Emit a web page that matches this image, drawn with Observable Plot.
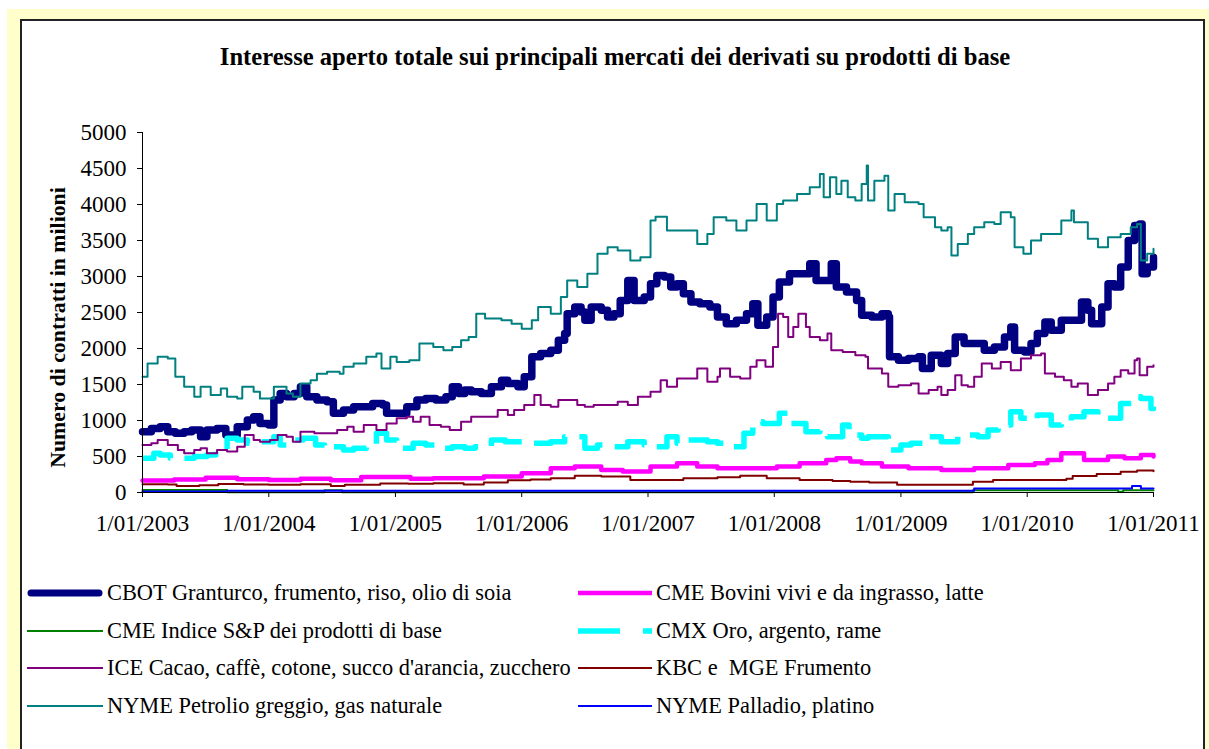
<!DOCTYPE html>
<html>
<head>
<meta charset="utf-8">
<script src="https://cdn.jsdelivr.net/npm/d3@7"></script>
<script src="https://cdn.jsdelivr.net/npm/@observablehq/plot@0.6"></script>
<style>
  html, body { margin: 0; padding: 0; background: #fff; width: 1209px; height: 749px; overflow: hidden; font-family: "Liberation Serif", "Times New Roman", serif; }
  #yellow { position: absolute; left: 7px; top: 9px; width: 1202px; height: 760px; background: #FFFFCC; }
  #box { position: absolute; left: 20px; top: 19px; width: 1181px; height: 780px; background: #fff; border: 2px solid #222; }
  #title { position: absolute; left: 20px; top: 43px; width: 1190px; text-align: center; font-weight: bold; font-size: 24.6px; color: #000; white-space: nowrap; }
  #chart { position: absolute; left: 0; top: 100px; }
  .leg { position: absolute; height: 20px; display: flex; align-items: center; font-size: 22.4px; color: #000; white-space: pre; }
  .leg svg { margin-right: 4px; }
</style>
</head>
<body>
<div id="yellow"></div>
<div id="box"></div>
<div id="title">Interesse aperto totale sui principali mercati dei derivati su prodotti di base</div>
<div id="chart"></div>
<div id="legend"></div>
<script>
// ---- Data (decimal year, millions of contracts) ----
const cbot = [[2003.00,845],[2003.07,890],[2003.14,914],[2003.20,845],[2003.26,822],[2003.33,845],[2003.39,868],[2003.46,775],[2003.51,868],[2003.59,890],[2003.66,799],[2003.75,914],[2003.83,1006],[2003.88,1053],[2003.93,960],[2004.00,937],[2004.04,1284],[2004.09,1376],[2004.14,1330],[2004.20,1376],[2004.25,1468],[2004.30,1330],[2004.38,1284],[2004.46,1260],[2004.51,1099],[2004.59,1145],[2004.67,1191],[2004.75,1191],[2004.82,1237],[2004.90,1214],[2004.93,1099],[2005.01,1099],[2005.09,1191],[2005.17,1284],[2005.24,1306],[2005.32,1284],[2005.40,1330],[2005.45,1468],[2005.50,1376],[2005.55,1422],[2005.60,1400],[2005.68,1376],[2005.76,1468],[2005.84,1560],[2005.89,1514],[2005.97,1468],[2006.02,1607],[2006.08,1884],[2006.15,1930],[2006.23,1976],[2006.29,2115],[2006.34,2207],[2006.36,2484],[2006.42,2576],[2006.47,2507],[2006.50,2392],[2006.55,2576],[2006.63,2530],[2006.68,2438],[2006.73,2484],[2006.78,2668],[2006.84,2946],[2006.89,2668],[2006.97,2715],[2007.02,2900],[2007.07,3015],[2007.13,2992],[2007.18,2853],[2007.23,2900],[2007.28,2761],[2007.34,2646],[2007.41,2622],[2007.49,2576],[2007.55,2438],[2007.62,2345],[2007.70,2392],[2007.78,2484],[2007.83,2622],[2007.87,2322],[2007.94,2438],[2007.99,2715],[2008.04,2922],[2008.12,3038],[2008.20,3038],[2008.28,3177],[2008.33,2946],[2008.41,2946],[2008.45,3177],[2008.49,2853],[2008.57,2784],[2008.65,2668],[2008.69,2461],[2008.77,2438],[2008.85,2484],[2008.90,2438],[2008.91,1884],[2008.98,1837],[2009.06,1860],[2009.14,1884],[2009.17,1722],[2009.24,1907],[2009.32,1791],[2009.37,1930],[2009.43,2161],[2009.50,2068],[2009.58,2068],[2009.66,1976],[2009.74,2022],[2009.82,2161],[2009.87,2300],[2009.90,1976],[2009.98,1953],[2010.03,2068],[2010.08,2207],[2010.14,2368],[2010.19,2253],[2010.27,2392],[2010.35,2392],[2010.43,2646],[2010.48,2530],[2010.51,2345],[2010.59,2576],[2010.64,2900],[2010.69,2853],[2010.74,3131],[2010.80,3500],[2010.85,3707],[2010.89,3730],[2010.91,3038],[2010.95,3131],[2011.00,3269]];
const cmeBovini = [[2003.00,166],[2003.25,180],[2003.50,205],[2003.75,185],[2004.00,175],[2004.25,190],[2004.49,170],[2004.73,215],[2005.12,190],[2005.30,198],[2005.45,198],[2005.70,222],[2006.00,268],[2006.23,337],[2006.42,360],[2006.63,314],[2006.80,291],[2007.02,360],[2007.23,406],[2007.39,360],[2007.55,337],[2007.81,337],[2008.02,360],[2008.20,406],[2008.41,452],[2008.49,475],[2008.60,430],[2008.69,406],[2008.85,360],[2009.06,337],[2009.32,314],[2009.58,337],[2009.85,383],[2010.06,406],[2010.16,452],[2010.27,545],[2010.37,545],[2010.45,452],[2010.64,499],[2010.77,475],[2010.90,522],[2011.00,499]];
const cmeIndice = [[2003.00,35],[2003.66,35],[2003.67,5],[2004.43,5],[2004.44,30],[2004.57,30],[2004.58,5],[2009.56,5],[2009.57,30],[2010.70,30],[2010.72,10],[2010.76,30],[2011.00,30]];
const cmx = [[2003.00,475],[2003.09,545],[2003.14,522],[2003.22,475],[2003.41,499],[2003.51,522],[2003.58,590],[2003.67,753],[2003.75,730],[2003.83,683],[2003.93,706],[2004.04,776],[2004.09,660],[2004.19,730],[2004.27,753],[2004.37,660],[2004.44,614],[2004.51,637],[2004.59,591],[2004.67,614],[2004.77,637],[2004.85,822],[2004.93,730],[2005.01,614],[2005.14,683],[2005.24,660],[2005.35,614],[2005.45,637],[2005.55,614],[2005.63,637],[2005.76,730],[2005.87,706],[2006.00,683],[2006.13,683],[2006.23,706],[2006.34,776],[2006.50,614],[2006.60,660],[2006.68,637],[2006.84,706],[2006.97,660],[2007.02,637],[2007.15,776],[2007.23,683],[2007.31,730],[2007.47,706],[2007.55,683],[2007.65,637],[2007.76,822],[2007.83,983],[2007.91,960],[2007.99,960],[2008.04,1099],[2008.12,960],[2008.25,845],[2008.36,868],[2008.42,776],[2008.54,937],[2008.59,845],[2008.64,799],[2008.69,753],[2008.74,776],[2008.90,683],[2008.92,591],[2009.00,660],[2009.08,683],[2009.22,776],[2009.32,706],[2009.45,799],[2009.61,776],[2009.69,868],[2009.77,937],[2009.87,1122],[2009.95,1030],[2010.03,1006],[2010.08,1076],[2010.19,937],[2010.27,983],[2010.35,1053],[2010.45,1122],[2010.56,1076],[2010.61,1030],[2010.74,1237],[2010.85,1330],[2010.90,1306],[2010.98,1168],[2011.00,1191]];
const ice = [[2003.00,660],[2003.07,683],[2003.12,730],[2003.20,660],[2003.28,590],[2003.33,545],[2003.41,590],[2003.46,614],[2003.51,545],[2003.59,590],[2003.67,568],[2003.75,637],[2003.81,799],[2003.88,730],[2003.93,706],[2004.01,730],[2004.07,799],[2004.14,776],[2004.19,706],[2004.25,845],[2004.36,822],[2004.46,822],[2004.54,868],[2004.62,914],[2004.67,845],[2004.75,937],[2004.85,868],[2004.93,960],[2005.01,1030],[2005.09,1053],[2005.14,983],[2005.20,1053],[2005.27,937],[2005.36,914],[2005.43,868],[2005.52,983],[2005.60,1053],[2005.71,1053],[2005.81,1145],[2005.89,1076],[2005.94,1145],[2006.02,1214],[2006.10,1353],[2006.15,1214],[2006.23,1191],[2006.29,1284],[2006.36,1284],[2006.44,1214],[2006.50,1191],[2006.57,1214],[2006.65,1214],[2006.76,1260],[2006.84,1214],[2006.92,1330],[2007.02,1399],[2007.10,1560],[2007.15,1468],[2007.23,1583],[2007.31,1583],[2007.39,1722],[2007.44,1722],[2007.47,1537],[2007.55,1607],[2007.57,1722],[2007.65,1607],[2007.73,1583],[2007.81,1745],[2007.86,1837],[2007.93,1745],[2007.99,2022],[2008.03,2484],[2008.07,2438],[2008.11,2161],[2008.15,2299],[2008.19,2484],[2008.25,2300],[2008.28,2161],[2008.36,2115],[2008.42,2207],[2008.45,1976],[2008.54,1953],[2008.64,1907],[2008.72,1884],[2008.74,1722],[2008.85,1653],[2008.90,1468],[2008.98,1491],[2009.08,1514],[2009.14,1376],[2009.22,1422],[2009.29,1468],[2009.32,1353],[2009.37,1422],[2009.43,1630],[2009.48,1491],[2009.53,1468],[2009.58,1607],[2009.64,1791],[2009.72,1722],[2009.79,1814],[2009.87,1699],[2009.95,1860],[2010.03,1907],[2010.11,1930],[2010.14,1653],[2010.22,1607],[2010.29,1560],[2010.35,1468],[2010.40,1514],[2010.48,1353],[2010.56,1422],[2010.64,1514],[2010.69,1607],[2010.74,1699],[2010.80,1653],[2010.85,1837],[2010.87,1860],[2010.89,1630],[2010.95,1745],[2011.00,1768]];
const kbc = [[2003.00,115],[2003.20,110],[2003.27,92],[2003.45,100],[2003.60,119],[2003.80,110],[2004.00,106],[2004.25,115],[2004.49,92],[2004.60,106],[2004.88,125],[2005.10,120],[2005.30,129],[2005.54,110],[2005.70,140],[2005.89,171],[2006.07,180],[2006.23,198],[2006.42,231],[2006.63,222],[2006.86,175],[2007.02,175],[2007.28,198],[2007.55,212],[2007.73,231],[2007.94,198],[2008.20,175],[2008.46,160],[2008.60,150],[2008.75,140],[2008.97,108],[2009.40,108],[2009.57,150],[2009.73,174],[2010.31,190],[2010.36,229],[2010.55,257],[2010.74,289],[2010.87,305],[2011.00,295]];
const nymePetrolio = [[2003.00,1607],[2003.04,1791],[2003.12,1884],[2003.20,1860],[2003.26,1607],[2003.33,1468],[2003.41,1330],[2003.46,1470],[2003.54,1353],[2003.62,1445],[2003.67,1330],[2003.75,1306],[2003.79,1468],[2003.88,1400],[2003.93,1306],[2004.04,1468],[2004.14,1376],[2004.19,1330],[2004.25,1514],[2004.33,1560],[2004.38,1650],[2004.46,1676],[2004.56,1650],[2004.59,1745],[2004.67,1791],[2004.77,1884],[2004.85,1930],[2004.89,1722],[2004.96,1884],[2005.01,1814],[2005.11,1837],[2005.19,2068],[2005.30,2022],[2005.38,1976],[2005.45,2022],[2005.52,2115],[2005.58,2160],[2005.64,2484],[2005.71,2415],[2005.84,2392],[2005.92,2345],[2006.00,2276],[2006.08,2392],[2006.13,2576],[2006.23,2484],[2006.31,2715],[2006.36,2946],[2006.44,2853],[2006.52,3038],[2006.60,3315],[2006.68,3407],[2006.76,3361],[2006.86,3223],[2006.94,3269],[2007.02,3777],[2007.06,3830],[2007.15,3638],[2007.23,3638],[2007.34,3638],[2007.39,3453],[2007.47,3592],[2007.52,3823],[2007.62,3777],[2007.70,3638],[2007.78,3777],[2007.86,4007],[2007.94,3777],[2008.02,4007],[2008.07,4054],[2008.18,4146],[2008.28,4238],[2008.36,4423],[2008.39,4100],[2008.44,4377],[2008.49,4146],[2008.53,4330],[2008.58,4100],[2008.64,4054],[2008.69,4285],[2008.73,4540],[2008.74,4054],[2008.79,4330],[2008.87,4400],[2008.90,3915],[2008.95,4146],[2009.03,4031],[2009.14,4007],[2009.18,3823],[2009.27,3684],[2009.32,3638],[2009.37,3684],[2009.40,3292],[2009.45,3453],[2009.53,3592],[2009.58,3684],[2009.66,3754],[2009.74,3730],[2009.79,3892],[2009.87,3823],[2009.90,3407],[2009.97,3315],[2010.03,3500],[2010.11,3592],[2010.19,3592],[2010.27,3777],[2010.35,3915],[2010.37,3754],[2010.48,3523],[2010.56,3407],[2010.64,3546],[2010.74,3592],[2010.82,3684],[2010.87,3730],[2010.90,3223],[2010.95,3315],[2011.00,3384]];
const nymePalladio = [[2003.00,15],[2003.66,15],[2003.67,25],[2009.56,25],[2009.58,55],[2010.80,55],[2010.83,90],[2010.88,90],[2010.90,55],[2011.00,55]];

const seriesNames = [
  "CBOT Granturco, frumento, riso, olio di soia",
  "CME Bovini vivi e da ingrasso, latte",
  "CME Indice S&P dei prodotti di base",
  "CMX Oro, argento, rame",
  "ICE Cacao, caffè, cotone, succo d'arancia, zucchero",
  "KBC e  MGE Frumento",
  "NYME Petrolio greggio, gas naturale",
  "NYME Palladio, platino"
];
const seriesData = [cbot, cmeBovini, cmeIndice, cmx, ice, kbc, nymePetrolio, nymePalladio];
const seriesColors = ["#000080", "#FF00FF", "#008000", "#00FFFF", "#800080", "#800000", "#008080", "#0000FF"];
const seriesWidths = [7.5, 4.5, 2, 5.5, 2, 2, 2, 2];
const seriesDash = [null, null, null, "38,14", null, null, null, null];

const yTicks = [0, 500, 1000, 1500, 2000, 2500, 3000, 3500, 4000, 4500, 5000];
const xTickYears = [2003, 2004, 2005, 2006, 2007, 2008, 2009, 2010, 2011];
const xTickLabels = ["1/01/2003", "1/01/2004", "1/01/2005", "1/01/2006", "1/01/2007", "1/01/2008", "1/01/2009", "1/01/2010", "1/01/2011"];
const yLabel = "Numero di contratti in milioni";

// ---- helpers ----
function toDate(y) {
  const yr = Math.floor(y);
  const a = Date.UTC(yr, 0, 1), b = Date.UTC(yr + 1, 0, 1);
  return new Date(a + (y - yr) * (b - a));
}
const rows = [];
seriesData.forEach((arr, si) => arr.forEach(([t, v]) => rows.push({series: seriesNames[si], date: toDate(t), value: v})));

const lineMarks = seriesNames.map((name, i) =>
  Plot.line(rows.filter(d => d.series === name), {
    x: "date", y: "value", stroke: seriesColors[i], strokeWidth: seriesWidths[i],
    strokeDasharray: seriesDash[i] || undefined, curve: "step-after",
    strokeLinejoin: "round", strokeLinecap: seriesDash[i] ? "butt" : "round"
  })
);

const x0 = new Date(Date.UTC(2003, 0, 1)), x1 = new Date(Date.UTC(2011, 0, 1));
const chart = Plot.plot({
  width: 1209, height: 460,
  marginLeft: 142, marginRight: 56, marginTop: 32, marginBottom: 68,
  style: {background: "transparent", fontFamily: "'Liberation Serif', 'Times New Roman', serif", fontSize: "23px", color: "#000", overflow: "visible"},
  x: {type: "utc", domain: [x0, x1]},
  y: {domain: [0, 5000]},
  marks: [
    ...lineMarks,
    Plot.ruleY([0], {stroke: "#000", strokeWidth: 1}),
    Plot.ruleX([x0], {stroke: "#000", strokeWidth: 1}),
    Plot.axisY({ticks: yTicks, tickSize: 5, tickPadding: 11, label: null, fontSize: 23, strokeOpacity: 1, tickFormat: d => String(d)}),
    Plot.axisX({ticks: xTickYears.map(y => new Date(Date.UTC(y, 0, 1))), tickSize: 5, tickPadding: 17, label: null, fontSize: 23, strokeOpacity: 1,
      tickFormat: d => xTickLabels[xTickYears.indexOf(d.getUTCFullYear())]}),
    Plot.text([yLabel], {text: d => d, frameAnchor: "left", textAnchor: "middle", rotate: -90, dx: -84, dy: 15, fontWeight: "bold", fontSize: 21.8, fill: "#000"})
  ]
});
document.getElementById("chart").appendChild(chart);

// ---- legend ----
const legendPos = [
  {x: 27, y: 593}, {x: 578, y: 593},
  {x: 27, y: 631}, {x: 578, y: 631},
  {x: 27, y: 668}, {x: 578, y: 668},
  {x: 27, y: 706}, {x: 578, y: 706}
];
const legend = document.getElementById("legend");
seriesNames.forEach((name, i) => {
  const p = legendPos[i];
  const div = document.createElement("div");
  div.className = "leg";
  div.style.left = p.x + "px";
  div.style.top = (p.y - 10) + "px";
  const w = i % 2 === 0 ? 76 : 74;
  const dash = i === 3 ? 'stroke-dasharray="42,23,9"' : "";
  const cap = i === 0 ? "round" : "butt";
  const sw = i === 0 ? 7 : seriesWidths[i];
  div.innerHTML = `<svg width="${w}" height="20"><line x1="${cap === 'round' ? 4 : 0}" x2="${cap === 'round' ? w - 4 : w}" y1="10" y2="10" stroke="${seriesColors[i]}" stroke-width="${sw}" stroke-linecap="${cap}" ${dash}/></svg><span></span>`;
  div.querySelector("span").textContent = name;
  legend.appendChild(div);
});
</script>
</body>
</html>
